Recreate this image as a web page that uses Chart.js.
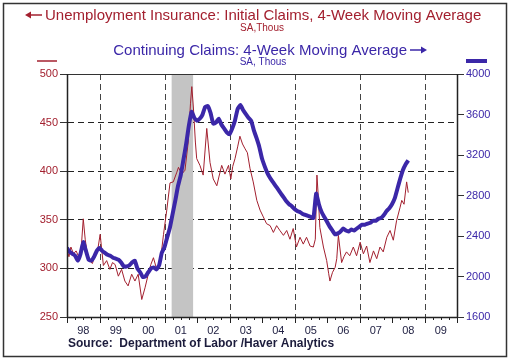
<!DOCTYPE html>
<html>
<head>
<meta charset="utf-8">
<script src="https://cdn.jsdelivr.net/npm/chart.js@4.4.1/dist/chart.umd.min.js"></script>
<style>
  html, body { margin: 0; padding: 0; background: #fff; }
  #wrap { width: 510px; height: 360px; }
</style>
</head>
<body>
<div id="wrap"><canvas id="myChart" width="510" height="360"></canvas></div>
<script>
// initial claims, 4-wk MA (thous, left axis)
let initialYears = [
  1998.0, 1998.06, 1998.12, 1998.2, 1998.28, 1998.36, 1998.44, 1998.5, 1998.56, 1998.62, 1998.7, 1998.78, 1998.86, 1998.94,
  1999.02, 1999.12, 1999.22, 1999.32, 1999.4, 1999.48, 1999.58, 1999.68, 1999.78, 1999.88, 1999.99,
  2000.09, 2000.19, 2000.3, 2000.4, 2000.5, 2000.58, 2000.66, 2000.76, 2000.86, 2000.97,
  2001.07, 2001.17, 2001.27, 2001.38, 2001.43, 2001.53, 2001.63, 2001.73, 2001.8, 2001.84, 2001.89, 2001.95, 2001.99,
  2002.09, 2002.19, 2002.3, 2002.4, 2002.5, 2002.61, 2002.68, 2002.76, 2002.86, 2002.97,
  2003.04, 2003.1, 2003.17, 2003.25, 2003.32, 2003.4, 2003.48, 2003.55, 2003.63, 2003.73, 2003.84, 2003.94,
  2004.04, 2004.14, 2004.25, 2004.35, 2004.45, 2004.55, 2004.66, 2004.76, 2004.86, 2004.96,
  2005.06, 2005.17, 2005.27, 2005.37, 2005.48, 2005.58, 2005.64, 2005.69, 2005.73, 2005.78, 2005.89, 2005.99,
  2006.05, 2006.09, 2006.17, 2006.25, 2006.3, 2006.35, 2006.45, 2006.52, 2006.6, 2006.7, 2006.81, 2006.91,
  2007.02, 2007.12, 2007.22, 2007.32, 2007.43, 2007.53, 2007.63, 2007.73, 2007.84, 2007.94,
  2008.04, 2008.14, 2008.25, 2008.3, 2008.37, 2008.45, 2008.5
];
let initialClaims = [
  320, 312, 322, 315, 318, 312, 322, 351, 330, 316, 308, 305, 313, 318,
  335, 303, 308, 299, 306, 304, 292, 299, 287, 282, 294,
  287, 294, 268, 280, 294, 304, 311, 299, 304, 335,
  360, 388, 389, 399, 404, 397, 401, 430, 470, 487, 465, 430, 413,
  406, 396, 444, 409, 392, 385, 395, 406, 397, 406,
  392, 405, 413, 425, 436, 428, 423, 419, 403, 389, 370, 360,
  353, 346, 344, 337, 344, 339, 334, 339, 330, 341,
  322, 332, 325, 332, 323, 322, 330, 396, 375, 342, 322, 308,
  295, 287, 296, 301, 310, 334, 306, 312, 317, 313, 322, 313,
  327, 315, 323, 306, 318, 310, 322, 317, 332, 339,
  329, 349, 363, 370, 366, 389, 378
];

// continuing claims, 4-wk MA (thous, right axis), monthly from Jan 1998
let contStart = 1998.0;
let continuingClaims = [
  2282, 2243, 2224, 2205, 2157, 2224, 2339, 2253, 2166, 2157, 2195, 2253,
  2282, 2253, 2234, 2214, 2205, 2186, 2176, 2166, 2138, 2099, 2099, 2109,
  2138, 2157, 2080, 2042, 1994, 2003, 2042, 2080, 2090, 2070, 2109, 2234,
  2291, 2387, 2483, 2618, 2752, 2896, 3002, 3155, 3309, 3491, 3626, 3568,
  3539, 3558, 3597, 3674, 3683, 3616, 3510, 3520, 3558, 3501, 3462, 3424,
  3405, 3462, 3539, 3654, 3693, 3645, 3606, 3568, 3539, 3443, 3366, 3280,
  3165, 3088, 3021, 2973, 2934, 2896, 2858, 2819, 2781, 2742, 2714, 2694,
  2666, 2646, 2637, 2618, 2608, 2598, 2589, 2579, 2819, 2714, 2637, 2589,
  2541, 2493, 2454, 2416, 2426, 2445, 2474, 2454, 2445, 2464, 2454, 2474,
  2493, 2512, 2512, 2522, 2531, 2550, 2550, 2570, 2579, 2608, 2646, 2675,
  2714, 2771, 2867, 2963, 3050, 3107, 3146
];

let yearLabels = ["98", "99", "00", "01", "02", "03", "04", "05", "06", "07", "08", "09"];
let gridYears = [1999, 2001, 2003, 2005, 2007, 2009];
let recession = [2001.22, 2001.88];

const RED = "#a3202f";
const BLUE = "#3b27a8";
const FONT = "'Liberation Sans', Arial, sans-serif";

let initialPoints = initialYears.map((x, i) => ({ x: x, y: initialClaims[i] }));
let contPoints = continuingClaims.map((v, i) => ({ x: contStart + i / 12, y: v }));

function drawArrow(ctx, x0, x1, y, color) {
  // thin shaft with small solid head pointing toward x1
  let dir = x1 > x0 ? 1 : -1;
  ctx.strokeStyle = color;
  ctx.fillStyle = color;
  ctx.lineWidth = 1.5;
  ctx.beginPath();
  ctx.moveTo(x0, y);
  ctx.lineTo(x1 - dir * 4, y);
  ctx.stroke();
  ctx.beginPath();
  ctx.moveTo(x1, y);
  ctx.lineTo(x1 - dir * 6, y - 3.5);
  ctx.lineTo(x1 - dir * 6, y + 3.5);
  ctx.closePath();
  ctx.fill();
}

const decor = {
  id: "decor",
  beforeDraw(chart) {
    const ctx = chart.ctx;
    ctx.save();
    ctx.fillStyle = "#fff";
    ctx.fillRect(0, 0, chart.width, chart.height);
    ctx.restore();
  },
  beforeDatasetsDraw(chart) {
    const ctx = chart.ctx;
    const a = chart.chartArea;
    const x = chart.scales.x;
    ctx.save();
    // recession band
    ctx.fillStyle = "#c4c4c4";
    let x0 = x.getPixelForValue(recession[0]);
    let x1 = x.getPixelForValue(recession[1]);
    ctx.fillRect(x0, a.top, x1 - x0, a.bottom - a.top);
    // vertical dashed grid
    ctx.strokeStyle = "#444";
    ctx.lineWidth = 1;
    ctx.setLineDash([6, 4]);
    gridYears.forEach((yr) => {
      let px = Math.round(x.getPixelForValue(yr)) + 0.5;
      ctx.beginPath();
      ctx.moveTo(px, a.top);
      ctx.lineTo(px, a.bottom);
      ctx.stroke();
    });
    ctx.restore();
  },
  afterDraw(chart) {
    const ctx = chart.ctx;
    const a = chart.chartArea;
    const x = chart.scales.x;
    ctx.save();
    // plot frame
    ctx.strokeStyle = "#333";
    ctx.lineWidth = 1;
    ctx.strokeRect(a.left + 0.5, a.top + 0.5, a.right - a.left, a.bottom - a.top);
    ctx.strokeStyle = "#222";
    ctx.lineWidth = 1.5;
    ctx.beginPath();
    ctx.moveTo(a.left + 0.5, a.top);
    ctx.lineTo(a.left + 0.5, a.bottom);
    ctx.moveTo(a.right + 0.5, a.top);
    ctx.lineTo(a.right + 0.5, a.bottom);
    ctx.moveTo(a.left, a.bottom + 0.5);
    ctx.lineTo(a.right, a.bottom + 0.5);
    ctx.stroke();
    // x tick marks: years long, quarters short
    ctx.lineWidth = 1;
    for (let q = 0; q <= 48; q++) {
      let px = Math.round(x.getPixelForValue(1998 + q / 4)) + 0.5;
      let len = q % 4 === 0 ? 6 : 3;
      ctx.beginPath();
      ctx.moveTo(px, a.bottom);
      ctx.lineTo(px, a.bottom + len);
      ctx.stroke();
    }
    // titles
    ctx.textBaseline = "middle";
    ctx.textAlign = "left";
    ctx.fillStyle = RED;
    ctx.font = "15px " + FONT;
    ctx.fillText("Unemployment Insurance: Initial Claims, 4-Week Moving Average", 45, 16);
    drawArrow(ctx, 42, 25, 15, RED);
    ctx.textAlign = "center";
    ctx.font = "10px " + FONT;
    ctx.fillText("SA,Thous", 262, 28);
    ctx.fillStyle = BLUE;
    ctx.font = "15px " + FONT;
    ctx.textAlign = "right";
    ctx.fillText("Continuing Claims: 4-Week Moving Average", 407, 51);
    drawArrow(ctx, 410, 427, 50, BLUE);
    ctx.textAlign = "center";
    ctx.font = "10px " + FONT;
    ctx.fillText("SA, Thous", 263, 62);
    // legend keys
    ctx.strokeStyle = RED;
    ctx.lineWidth = 1.5;
    ctx.beginPath();
    ctx.moveTo(37, 61);
    ctx.lineTo(57, 61);
    ctx.stroke();
    ctx.strokeStyle = BLUE;
    ctx.lineWidth = 4;
    ctx.beginPath();
    ctx.moveTo(466, 61);
    ctx.lineTo(487, 61);
    ctx.stroke();
    // source
    ctx.textAlign = "left";
    ctx.fillStyle = "#1c1c3c";
    ctx.font = "bold 12px " + FONT;
    ctx.fillText("Source:  Department of Labor /Haver Analytics", 68, 344);
    // outer border
    ctx.strokeStyle = "#333";
    ctx.lineWidth = 1.5;
    ctx.strokeRect(3.5, 3.5, 503, 353);
    ctx.restore();
  }
};

let ctx = document.getElementById("myChart").getContext("2d");
let currentChart = new Chart(ctx, {
  type: "line",
  data: {
    datasets: [
      {
        label: "Initial Claims",
        data: initialPoints,
        yAxisID: "y",
        borderColor: RED,
        borderWidth: 1,
        pointRadius: 0,
        tension: 0,
        order: 2,
      },
      {
        label: "Continuing Claims",
        data: contPoints,
        yAxisID: "y2",
        borderColor: BLUE,
        borderWidth: 4,
        pointRadius: 0,
        tension: 0.15,
        order: 1,
      },
    ],
  },
  options: {
    responsive: false,
    animation: false,
    layout: { padding: { left: 20, right: 8, top: 74, bottom: 20 } },
    plugins: { legend: { display: false }, tooltip: { enabled: false } },
    scales: {
      x: {
        type: "linear",
        min: 1998,
        max: 2010,
        afterBuildTicks: (s) => {
          s.ticks = yearLabels.map((_, i) => ({ value: 1998.5 + i }));
        },
        afterFit: (s) => {
          s.height = 23;
        },
        ticks: {
          autoSkip: false,
          maxRotation: 0,
          padding: 7,
          color: "#222244",
          font: { family: FONT, size: 11 },
          callback: (v) => yearLabels[Math.round(v - 1998.5)],
        },
        grid: { display: false, drawTicks: false },
        border: { display: false },
      },
      y: {
        position: "left",
        min: 250,
        max: 500,
        afterFit: (s) => {
          s.width = 47;
        },
        ticks: {
          stepSize: 50,
          padding: 2,
          color: RED,
          font: { family: FONT, size: 11 },
          callback: (v) => String(v),
        },
        grid: { color: "#222", lineWidth: 1, tickLength: 7, tickColor: "#333" },
        border: { dash: [6, 4], color: "#222" },
      },
      y2: {
        position: "right",
        min: 1600,
        max: 4000,
        afterFit: (s) => {
          s.width = 45;
        },
        ticks: {
          stepSize: 400,
          padding: 2,
          color: BLUE,
          font: { family: FONT, size: 11 },
          callback: (v) => String(v),
        },
        grid: { drawOnChartArea: false, tickLength: 7, color: "#333" },
        border: { color: "#222" },
      },
    },
  },
  plugins: [decor],
});
</script>
</body>
</html>
